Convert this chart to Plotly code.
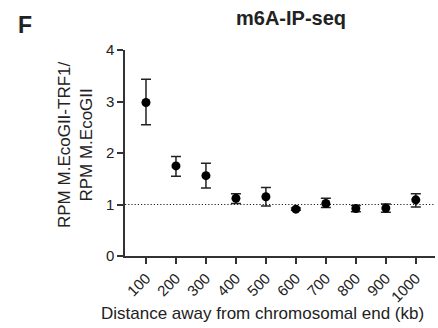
import plotly.graph_objects as go

distance = [100, 200, 300, 400, 500, 600, 700, 800, 900, 1000]
ratio = [2.98, 1.75, 1.56, 1.12, 1.15, 0.91, 1.02, 0.92, 0.93, 1.09]
err_plus = [0.45, 0.18, 0.24, 0.09, 0.18, 0.02, 0.10, 0.06, 0.08, 0.12]
err_minus = [0.43, 0.20, 0.24, 0.10, 0.18, 0.02, 0.08, 0.06, 0.08, 0.14]
tick_labels = [str(d) for d in distance]

L, R, T, B = 125, 3, 50, 72
W, H = 438, 328
pw = W - L - R
ph = H - T - B

def px_x(x):
    return (x - L) / pw

def px_y(y):
    return (H - B - y) / ph

fig = go.Figure()
fig.add_trace(go.Scatter(
    x=distance, y=ratio, mode="markers",
    marker=dict(color="black", size=9),
    error_y=dict(type="data", symmetric=False, array=err_plus, arrayminus=err_minus,
                 color="#222", thickness=1.5, width=5),
    showlegend=False,
))
fig.add_shape(type="line", xref="paper", yref="y", x0=0, x1=1, y0=1, y1=1,
              line=dict(color="#222", width=1.2, dash="1.2px,2px"), layer="below")

fig.update_layout(
    width=W, height=H, margin=dict(l=L, r=R, t=T, b=B),
    paper_bgcolor="white", plot_bgcolor="white",
    font=dict(family="Liberation Sans, Arial, sans-serif", color="#222", size=16),
    xaxis=dict(range=[30, 1064], tickvals=distance, ticktext=tick_labels, tickangle=-45,
               showgrid=False, zeroline=False, showline=True, linecolor="#333", linewidth=1.5,
               ticks="outside", ticklen=6, tickwidth=1.5, tickcolor="#333",
               tickfont=dict(size=15)),
    yaxis=dict(range=[0, 4], tickvals=[0, 1, 2, 3, 4], showgrid=False, zeroline=False,
               showline=True, linecolor="#333", linewidth=1.5,
               ticks="outside", ticklen=6, tickwidth=1.5, tickcolor="#333",
               tickfont=dict(size=15)),
    annotations=[
        dict(text="RPM M.EcoGII-TRF1/<br>RPM M.EcoGII", xref="paper", yref="paper",
             x=px_x(75), y=px_y(145), xanchor="center", yanchor="middle",
             textangle=-90, showarrow=False, font=dict(size=17)),
        dict(text="Distance away from chromosomal end (kb)", xref="paper", yref="paper",
             x=px_x(262), y=px_y(313), xanchor="center", yanchor="middle",
             showarrow=False, font=dict(size=17)),
        dict(text="<b>m6A-IP-seq</b>", xref="paper", yref="paper",
             x=px_x(291), y=px_y(18), xanchor="center", yanchor="middle",
             showarrow=False, font=dict(size=20)),
        dict(text="<b>F</b>", xref="paper", yref="paper",
             x=px_x(25), y=px_y(25), xanchor="center", yanchor="middle",
             showarrow=False, font=dict(size=23)),
    ],
)
fig.write_html("out.html")
